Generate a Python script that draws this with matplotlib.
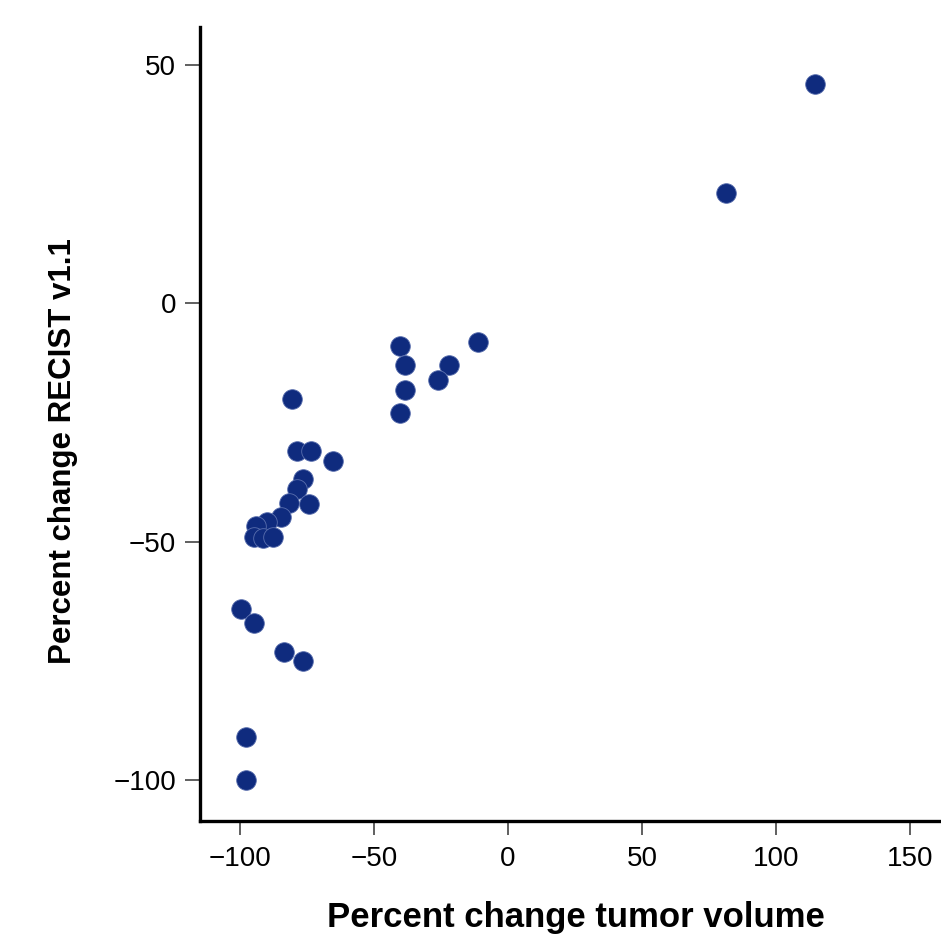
import numpy as np
import matplotlib
matplotlib.use("Agg")
import matplotlib.pyplot as plt

plt.rcParams['font.family'] = ['Liberation Sans', 'DejaVu Sans']

# Percent change in tumor volume vs percent change by RECIST v1.1
tumor_volume = [-80.5, -78.6, -73.6, -65.4, -76.6, -78.8, -81.7, -74.4, -84.7,
                -90.0, -94.0, -94.7, -91.3, -87.6,
                -99.6, -94.7, -83.6, -76.5, -97.6, -97.6,
                -40.3, -38.4, -38.4, -40.3, -22.0, -26.0, -11.1,
                81.3, 114.6]
recist = [-20.0, -30.9, -30.9, -33.0, -36.8, -38.9, -41.9, -42.1, -44.8,
          -45.9, -46.8, -49.0, -49.2, -49.0,
          -64.1, -67.1, -73.1, -75.1, -91.1, -100.1,
          -9.0, -13.0, -18.1, -23.1, -13.0, -16.1, -8.0,
          23.1, 46.0]

fig = plt.figure(figsize=(9.41, 9.38), dpi=100)
ax = fig.add_axes([0.2125, 0.125, 0.7875, 0.846])

ax.scatter(tumor_volume, recist, s=200, color='#0f2b7e', edgecolors='#5a6fae',
           linewidths=0.6, zorder=3)

ax.set_xlim(-114.9, 161.6)
ax.set_ylim(-108.6, 58)
ax.set_xticks([-100, -50, 0, 50, 100, 150])
ax.set_yticks([-100, -50, 0, 50])

for s in ['top', 'right']:
    ax.spines[s].set_visible(False)
for s in ['left', 'bottom']:
    ax.spines[s].set_linewidth(2.4)

ax.tick_params(axis='both', labelsize=20, width=1.2, color='#444444')
ax.tick_params(axis='x', length=10, pad=8)
ax.tick_params(axis='y', length=11, pad=6)

ax.set_xlabel('Percent change tumor volume', fontsize=25, fontweight='bold', va='center')
ax.set_ylabel('Percent change RECIST v1.1', fontsize=22.5, fontweight='bold', va='center')
ax.xaxis.set_label_coords(0.507, -0.122)
ax.yaxis.set_label_coords(-0.185, 0.466)

fig.savefig('out.png', dpi=100)
